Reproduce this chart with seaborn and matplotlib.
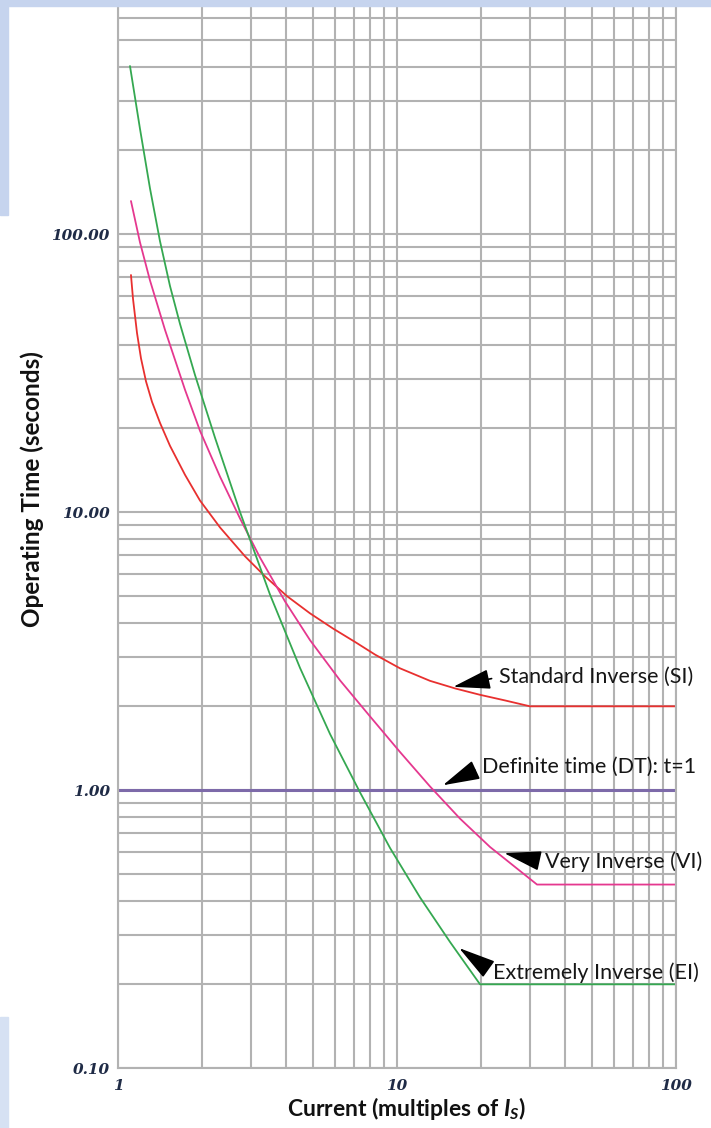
import pandas as pd
import seaborn as sns
from matplotlib import pyplot as plt
from matplotlib.patches import Rectangle
from matplotlib.ticker import LogLocator, NullFormatter

# curve readings (current multiple, operating time in s)
si_x = [1.113, 1.132, 1.17, 1.209, 1.26, 1.324, 1.415, 1.536, 1.739, 1.967, 2.321,
        2.852, 3.365, 4.035, 4.878, 5.896, 7.069, 8.341, 10.25, 13.13, 16.14, 19.84,
        24.38, 29.97, 100]
si_t = [71.2, 58.4, 44.0, 35.7, 29.5, 24.9, 20.9, 17.3, 13.6, 11.0, 8.80,
        6.93, 5.87, 4.98, 4.32, 3.81, 3.41, 3.07, 2.74, 2.47, 2.32, 2.20,
        2.10, 2.0, 2.0]

vi_x = [1.113, 1.199, 1.302, 1.474, 1.739, 1.967, 2.321, 2.737, 3.228, 3.968, 4.878,
        6.248, 8.003, 10.25, 13.13, 16.82, 21.54, 31.76, 100]
vi_t = [131.4, 93.3, 68.1, 45.2, 27.5, 19.6, 13.4, 9.48, 6.86, 4.77, 3.46,
        2.48, 1.84, 1.37, 1.03, 0.789, 0.624, 0.457, 0.457]

ei_x = [1.104, 1.199, 1.302, 1.414, 1.536, 1.668, 1.888, 2.227, 2.737, 3.505, 4.491,
        5.754, 7.371, 9.439, 12.09, 15.49, 19.84, 100]
ei_t = [402, 239, 146, 94.3, 65.0, 47.5, 31.1, 18.5, 10.0, 5.05, 2.75,
        1.59, 0.98, 0.619, 0.411, 0.284, 0.2, 0.2]

dt_x = [1, 100]
dt_t = [1.0, 1.0]

x_ticks = [1, 10, 100]
x_labels = ["1", "10", "100"]
y_ticks = [0.1, 1, 10, 100]
y_labels = ["0.10", "1.00", "10.00", "100.00"]

sns.set_theme(style="white")
plt.rcParams['font.family'] = ['Lato', 'DejaVu Sans']
plt.rcParams['mathtext.fontset'] = 'custom'
plt.rcParams['mathtext.rm'] = 'Lato:bold'
plt.rcParams['mathtext.it'] = 'Lato:italic:bold'

GRID = "#b2b2b2"
fig = plt.figure(figsize=(7.11, 11.28), dpi=100)
ax = fig.add_axes([118/711, 1-1068/1128, 558/711, 1062/1128])
ax.set_xscale("log")
ax.set_yscale("log")

sns.lineplot(x=dt_x, y=dt_t, color="#7d6aa9", lw=2.2, ax=ax)
sns.lineplot(x=si_x, y=si_t, color="#e8302f", lw=1.3, ax=ax)
sns.lineplot(x=vi_x, y=vi_t, color="#e5388f", lw=1.3, ax=ax)
sns.lineplot(x=ei_x, y=ei_t, color="#35a851", lw=1.3, ax=ax)

ax.set_xlim(1, 100)
ax.set_ylim(0.1, 661)
ax.xaxis.set_minor_locator(LogLocator(subs=range(2, 10)))
ax.yaxis.set_minor_locator(LogLocator(subs=range(2, 10)))
ax.xaxis.set_minor_formatter(NullFormatter())
ax.yaxis.set_minor_formatter(NullFormatter())
ax.set_xticks(x_ticks, x_labels)
ax.set_yticks(y_ticks, y_labels)
ax.grid(which="both", color=GRID, lw=1.5)
ax.set_axisbelow(True)
ax.tick_params(which="both", length=0)
ax.tick_params(axis="y", pad=6)
ax.tick_params(axis="x", pad=8)
for lab in ax.get_xticklabels() + ax.get_yticklabels():
    lab.set_fontfamily("DejaVu Serif")
    lab.set_fontstyle("italic")
    lab.set_fontweight("bold")
    lab.set_fontsize(11)
    lab.set_color("#1f2b46")
for s in ["left", "bottom", "right"]:
    ax.spines[s].set_color(GRID)
    ax.spines[s].set_linewidth(1.5)
ax.spines["top"].set_visible(False)

ax.set_ylabel("Operating Time (seconds)", fontsize=17.5, fontweight="bold",
              color="#111111", va="center", ha="center")
ax.yaxis.set_label_coords(-0.154, 0.545)
ax.set_xlabel("Current (multiples of $\\mathit{I}_S$)", fontsize=16.5,
              fontweight="bold", color="#111111", va="center", ha="center")
ax.xaxis.set_label_coords(0.516, -0.038)

# curve labels with arrows
notes = [("Standard Inverse (SI)", (15.9, 2.35), (23.2, 2.55)),
         ("Definite time (DT): t=1", (14.6, 1.04), (20.2, 1.21)),
         ("Very Inverse (VI)", (24.2, 0.593), (33.9, 0.551)),
         ("Extremely Inverse (EI)", (16.7, 0.270), (22.1, 0.221))]
for txt, tip, pos in notes:
    ax.annotate(txt, xy=tip, xytext=pos, fontsize=15.5, color="#161616",
                ha="left", va="center",
                arrowprops=dict(arrowstyle="-|>,head_length=1.5,head_width=0.4",
                                color="black", lw=1.2, shrinkA=3, shrinkB=0,
                                relpos=(0, 0.5)))

# light blue page edges from the screenshot
fig.patches.append(Rectangle((0, 1-6/1128), 1, 6/1128, transform=fig.transFigure,
                             color="#c6d4ee", zorder=0))
fig.patches.append(Rectangle((0, 1-215/1128), 8/711, 215/1128, transform=fig.transFigure,
                             color="#c6d4ee", zorder=0))
fig.patches.append(Rectangle((0, 0), 8/711, 111/1128, transform=fig.transFigure,
                             color="#d6e1f3", zorder=0))

fig.savefig("out.png", dpi=100)
